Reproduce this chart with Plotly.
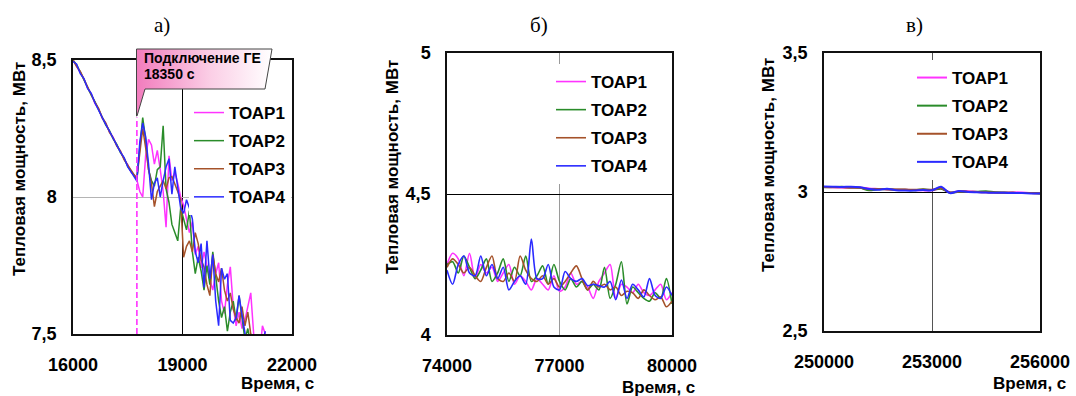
import plotly.graph_objects as go

W, H = 1076, 396

SERIES = ["ТОАР1", "ТОАР2", "ТОАР3", "ТОАР4"]
COLORS = ["#ff33ff", "#2a8c2a", "#a5522a", "#2a2aff"]

# ---------------- panel a) ----------------
a_pre_x = [16000, 16100, 16200, 16300, 16400, 16500, 16600, 16700, 16800, 16900,
           17000, 17100, 17200, 17300, 17400, 17500, 17600, 17700, 17750]
a_post_x = [17830, 17910, 17990, 18070, 18150, 18230, 18310, 18390, 18470, 18550,
            18630, 18710, 18790, 18870, 18950, 19030, 19110, 19190, 19270, 19350,
            19430, 19510, 19590, 19670, 19750, 19830, 19910, 19990, 20070, 20150,
            20230, 20310, 20390, 20470, 20550, 20630, 20710, 20790, 20870, 20950,
            21030, 21110, 21190, 21270]

a_t1 = [8.50, 8.478, 8.452, 8.43, 8.398, 8.376, 8.342, 8.322, 8.288, 8.268,
        8.238, 8.218, 8.188, 8.166, 8.138, 8.118, 8.088, 8.078, 8.062,
        8.02, 8.00, 8.15, 8.21, 8.19, 8.12, 8.17, 8.10, 8.02, 7.89,
        8.15, 8.06, 8.09, 8.05, 8.00, 7.97, 7.92, 7.87, 7.91, 7.79,
        7.82, 7.74, 7.80, 7.745, 7.70, 7.66, 7.72, 7.76, 7.62, 7.575,
        7.68, 7.745, 7.60, 7.53, 7.58, 7.52, 7.55, 7.60, 7.65, 7.50,
        7.46, 7.42, 7.53, 7.50]
a_t2 = [8.50, 8.482, 8.456, 8.427, 8.402, 8.372, 8.348, 8.318, 8.292, 8.262,
        8.242, 8.212, 8.192, 8.162, 8.142, 8.112, 8.092, 8.072, 8.066,
        8.18, 8.29, 8.21, 8.10, 8.06, 8.04, 8.10, 8.11, 8.26, 8.03,
        7.98, 7.90, 7.87, 7.84, 7.96, 7.92, 7.88, 7.95, 7.80, 7.72,
        7.78, 7.73, 7.66, 7.75, 7.68, 7.80, 7.70, 7.62, 7.56, 7.60,
        7.51, 7.58, 7.62, 7.55, 7.64, 7.56, 7.48, 7.52, 7.44, 7.40,
        7.42, 7.38, 7.40, 7.36]
a_t3 = [8.50, 8.476, 8.458, 8.428, 8.404, 8.374, 8.346, 8.324, 8.29, 8.27,
        8.236, 8.216, 8.186, 8.168, 8.136, 8.116, 8.094, 8.076, 8.07,
        8.15, 8.25, 8.18, 8.10, 8.05, 7.965, 8.02, 8.04, 8.06, 8.03,
        8.07, 8.075, 8.05, 8.02, 7.99, 7.78, 7.82, 7.84, 7.80, 7.87,
        7.83, 7.77, 7.745, 7.68, 7.64, 7.79, 7.72, 7.69, 7.74, 7.66,
        7.62, 7.65, 7.59, 7.56, 7.54, 7.60, 7.53, 7.58, 7.50, 7.46,
        7.44, 7.40, 7.38, 7.35]
a_t4 = [8.495, 8.485, 8.45, 8.432, 8.396, 8.378, 8.344, 8.316, 8.294, 8.264,
        8.24, 8.214, 8.19, 8.164, 8.144, 8.11, 8.09, 8.07, 8.058,
        8.20, 8.27, 8.22, 8.12, 7.99, 8.05, 8.07, 8.00, 8.06, 8.11,
        8.14, 8.01, 8.11, 8.03, 7.96, 7.94, 7.99, 7.96, 7.92, 7.80,
        7.76, 7.83, 7.67, 7.84, 7.70, 7.79, 7.62, 7.53, 7.74, 7.70,
        7.72, 7.55, 7.54, 7.56, 7.64, 7.57, 7.49, 7.44, 7.40, 7.42,
        7.38, 7.44, 7.47, 7.51]
a_connect_x = 17750
a_connect_y = 8.29

# ---------------- panel б) ----------------
b_x = [74000, 74150, 74300, 74450, 74600, 74750, 74900, 75050, 75200, 75350,
       75500, 75650, 75800, 75950, 76100, 76250, 76400, 76550, 76700, 76850,
       77000, 77150, 77300, 77450, 77600, 77750, 77900, 78050, 78200, 78350,
       78500, 78650, 78800, 78950, 79100, 79250, 79400, 79550, 79700, 79850, 80000]
b_t1 = [4.25, 4.29, 4.27, 4.21, 4.29, 4.20, 4.25, 4.22, 4.24, 4.19,
        4.22, 4.25, 4.18, 4.21, 4.19, 4.16, 4.20, 4.18, 4.16, 4.21,
        4.155, 4.17, 4.22, 4.18, 4.19, 4.17, 4.13, 4.19, 4.22, 4.25,
        4.13, 4.18, 4.17, 4.15, 4.18, 4.15, 4.14, 4.16, 4.18, 4.125, 4.15]
b_t2 = [4.25, 4.26, 4.22, 4.28, 4.24, 4.20, 4.23, 4.27, 4.19, 4.22,
        4.27, 4.19, 4.24, 4.21, 4.28, 4.19, 4.21, 4.245, 4.18, 4.25,
        4.19, 4.16, 4.20, 4.17, 4.19, 4.16, 4.18, 4.16, 4.24, 4.13,
        4.18, 4.26, 4.11, 4.17, 4.15, 4.13, 4.12, 4.15, 4.13, 4.20, 4.11]
b_t3 = [4.24, 4.27, 4.25, 4.22, 4.24, 4.21, 4.19, 4.24, 4.28, 4.20,
        4.19, 4.22, 4.19, 4.28, 4.23, 4.20, 4.19, 4.21, 4.18, 4.20,
        4.17, 4.19, 4.22, 4.245, 4.20, 4.16, 4.19, 4.17, 4.18, 4.16,
        4.17, 4.14, 4.155, 4.15, 4.13, 4.16, 4.14, 4.125, 4.135, 4.10, 4.12]
b_t4 = [4.23, 4.18, 4.25, 4.28, 4.22, 4.21, 4.28, 4.21, 4.25, 4.20,
        4.24, 4.16, 4.19, 4.21, 4.18, 4.34, 4.20, 4.20, 4.25, 4.17,
        4.16, 4.225, 4.20, 4.19, 4.20, 4.175, 4.18, 4.175, 4.17, 4.19,
        4.125, 4.195, 4.13, 4.18, 4.16, 4.135, 4.20, 4.14, 4.13, 4.17, 4.14]

# ---------------- panel в) ----------------
c_x = [250000, 250250, 250500, 250750, 251000, 251250, 251500, 251750, 252000,
       252250, 252500, 252750, 253000, 253250, 253500, 253750, 254000, 254250,
       254500, 254750, 255000, 255250, 255500, 255750, 256000]
c_t1 = [3.018, 3.017, 3.016, 3.015, 3.016, 3.013, 3.011, 3.009, 3.008, 3.008,
        3.007, 3.006, 3.006, 3.013, 2.999, 3.003, 3.003, 3.000, 2.999, 2.998,
        2.998, 2.999, 2.998, 2.996, 2.996]
c_t2 = [3.017, 3.018, 3.019, 3.016, 3.015, 3.006, 3.010, 3.010, 3.008, 3.008,
        3.006, 3.010, 3.007, 3.012, 2.998, 3.001, 3.000, 3.001, 3.003, 2.999,
        2.998, 2.997, 2.996, 2.996, 2.995]
c_t3 = [3.018, 3.017, 3.017, 3.016, 3.015, 3.010, 3.011, 3.010, 3.009, 3.009,
        3.008, 3.009, 3.008, 3.014, 2.997, 3.002, 3.001, 3.000, 2.999, 2.998,
        2.997, 2.997, 2.996, 2.996, 2.995]
c_t4 = [3.020, 3.019, 3.018, 3.019, 3.017, 3.011, 3.008, 3.012, 3.006, 3.005,
        3.005, 3.007, 3.006, 3.019, 2.996, 3.004, 3.000, 2.999, 2.998, 2.997,
        2.997, 2.996, 2.996, 2.995, 2.995]

# ---------------- figure ----------------
BOLD = dict(family="Liberation Sans, Arial, sans-serif", color="black", weight="bold")
fig = go.Figure()

a_x = a_pre_x + a_post_x
for i, (name, ys) in enumerate(zip(SERIES, [a_t1, a_t2, a_t3, a_t4])):
    fig.add_trace(go.Scatter(x=a_x, y=ys, mode="lines", name=name,
                             line=dict(color=COLORS[i], width=1.5),
                             xaxis="x", yaxis="y", legend="legend",
                             legendgroup="a" + str(i)))
for i, (name, ys) in enumerate(zip(SERIES, [b_t1, b_t2, b_t3, b_t4])):
    fig.add_trace(go.Scatter(x=b_x, y=ys, mode="lines", name=name,
                             line=dict(color=COLORS[i], width=1.6, shape="spline", smoothing=0.8),
                             xaxis="x2", yaxis="y2", legend="legend2",
                             legendgroup="b" + str(i)))
for i, (name, ys) in enumerate(zip(SERIES, [c_t1, c_t2, c_t3, c_t4])):
    fig.add_trace(go.Scatter(x=c_x, y=ys, mode="lines", name=name,
                             line=dict(color=COLORS[i], width=2, shape="spline", smoothing=0.8),
                             xaxis="x3", yaxis="y3", legend="legend3",
                             legendgroup="c" + str(i)))

# callout (decoration, in pixel coordinates of the page)
call_px = [136.5, 272, 265, 145, 137, 136.5, 136.5]
call_py = [49, 49, 89, 89, 116, 116, 49]
fig.add_trace(go.Scatter(x=call_px, y=call_py, mode="lines", fill="toself",
                         line=dict(color="#444444", width=1),
                         fillgradient=dict(type="horizontal",
                                           colorscale=[[0, "#f27cbd"], [0.55, "#fbcfe6"], [1, "#ffffff"]]),
                         xaxis="x4", yaxis="y4", showlegend=False, hoverinfo="skip"))

def px_x(p):
    return p / W

def px_y(p):
    return 1 - p / H

tickfont = dict(BOLD, size=18)

def xa(dom, rng, tv, grid):
    return dict(domain=[px_x(dom[0]), px_x(dom[1])], range=rng, tickvals=tv,
                ticktext=[str(v) for v in tv], showgrid=True, gridcolor=grid, gridwidth=1,
                showline=True, linecolor="#111111", linewidth=1.5, mirror=True,
                ticks="", zeroline=False, tickfont=tickfont, ticklabelstandoff=14,
                automargin=False)

def ya(dom, rng, tv, tt, grid):
    return dict(domain=[px_y(dom[1]), px_y(dom[0])], range=rng, tickvals=tv,
                ticktext=tt, showgrid=True, gridcolor=grid, gridwidth=1,
                showline=True, linecolor="#111111", linewidth=1.5, mirror=True,
                ticks="", zeroline=False, tickfont=tickfont, ticklabelstandoff=11,
                automargin=False)

legfont = dict(BOLD, size=17)

def leg(xp, yp):
    return dict(x=px_x(xp), y=px_y(yp), xanchor="left", yanchor="top",
                bgcolor="white", font=legfont, tracegroupgap=3,
                traceorder="grouped", itemwidth=30)

annotations = []
for txt, xp in [("a)", 162), ("б)", 539), ("в)", 914)]:
    annotations.append(dict(text=txt, x=px_x(xp), y=px_y(25), xref="paper", yref="paper",
                            showarrow=False, xanchor="center", yanchor="middle",
                            font=dict(family="Liberation Serif, Times New Roman, serif",
                                      size=21, color="black")))
for xp, yp in [(20, 169), (392, 167), (768, 165)]:
    annotations.append(dict(text="Тепловая мощность, МВт", x=px_x(xp), y=px_y(yp),
                            xref="paper", yref="paper", showarrow=False, textangle=-90,
                            xanchor="center", yanchor="middle", font=dict(BOLD, size=17)))
for xp, yp in [(316, 383), (697, 387), (1068, 383)]:
    annotations.append(dict(text="Время, с", x=px_x(xp), y=px_y(yp),
                            xref="paper", yref="paper", showarrow=False,
                            xanchor="right", yanchor="middle", font=dict(BOLD, size=17)))
annotations.append(dict(text="Подключение ГЕ", x=px_x(142), y=px_y(58), xref="paper", yref="paper",
                        showarrow=False, xanchor="left", yanchor="middle", font=dict(BOLD, size=14)))
annotations.append(dict(text="18350 с", x=px_x(142), y=px_y(74), xref="paper", yref="paper",
                        showarrow=False, xanchor="left", yanchor="middle", font=dict(BOLD, size=14)))

shapes = [dict(type="line", xref="x", yref="y", x0=a_connect_x, x1=a_connect_x,
               y0=7.5, y1=a_connect_y, line=dict(color="#ff33ff", width=1.6, dash="6px,3px"))]

fig.update_layout(
    width=W, height=H, margin=dict(l=0, r=0, t=0, b=0, pad=0, autoexpand=False),
    paper_bgcolor="white", plot_bgcolor="rgba(0,0,0,0)",
    xaxis=xa((73, 292), [16000, 22000], [16000, 19000, 22000], "#000000"),
    yaxis=ya((60, 334), [7.5, 8.5], [7.5, 8, 8.5], ["7,5", "8", "8,5"], "#b4b4b4"),
    xaxis2=dict(xa((447, 672), [74000, 80000], [74000, 77000, 80000], "#9a9a9a"), anchor="y2"),
    yaxis2=dict(ya((53, 335), [4, 5], [4, 4.5, 5], ["4", "4,5", "5"], "#000000"), anchor="x2"),
    xaxis3=dict(xa((824, 1040), [250000, 256000], [250000, 253000, 256000], "#555555"), anchor="y3"),
    yaxis3=dict(ya((53, 331), [2.5, 3.5], [2.5, 3, 3.5], ["2,5", "3", "3,5"], "#000000"), anchor="x3"),
    xaxis4=dict(domain=[0, 1], range=[0, W], visible=False, anchor="y4", fixedrange=True,
                automargin=False),
    yaxis4=dict(domain=[0, 1], range=[H, 0], visible=False, anchor="x4", fixedrange=True,
                automargin=False),
    legend=leg(189, 95),
    legend2=leg(551, 64),
    legend3=leg(912, 60),
    annotations=annotations,
    shapes=shapes,
    showlegend=True,
)

fig.write_html("out.html", config={"displayModeBar": False},
               post_script="document.body.style.margin='0';")
